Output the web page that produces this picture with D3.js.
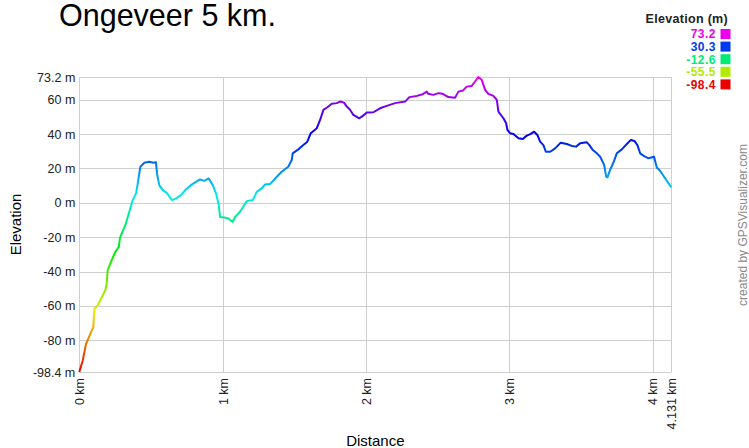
<!DOCTYPE html>
<html>
<head>
<meta charset="utf-8">
<script src="https://cdn.jsdelivr.net/npm/d3@7"></script>
<style>
  body { margin: 0; background: #fff; }
  svg { display: block; font-family: "Liberation Sans", Arial, sans-serif; }
</style>
</head>
<body>
<svg width="749" height="448"></svg>
<script>

// DATA

var distKm = [0, 0.024, 0.047, 0.082, 0.098, 0.105, 0.128, 0.158, 0.181, 0.191,
  0.198, 0.221, 0.251, 0.275, 0.284, 0.321, 0.349, 0.373, 0.396, 0.408,
  0.426, 0.454, 0.488, 0.516, 0.535, 0.542, 0.558, 0.582, 0.610, 0.647,
  0.675, 0.710, 0.740, 0.779, 0.814, 0.842, 0.872, 0.903, 0.931, 0.954,
  0.973, 0.982, 1.012, 1.040, 1.070, 1.087, 1.121, 1.144, 1.168, 1.210,
  1.238, 1.273, 1.296, 1.331, 1.378, 1.412, 1.458, 1.482, 1.489, 1.528,
  1.563, 1.591, 1.615, 1.657, 1.680, 1.703, 1.731, 1.761, 1.796, 1.819,
  1.847, 1.866, 1.889, 1.912, 1.954, 1.978, 2.006, 2.052, 2.098, 2.145,
  2.203, 2.273, 2.303, 2.355, 2.396, 2.424, 2.435, 2.470, 2.505, 2.536,
  2.575, 2.622, 2.645, 2.676, 2.703, 2.738, 2.761, 2.784, 2.808, 2.831,
  2.854, 2.889, 2.913, 2.924, 2.959, 2.978, 2.987, 3.005, 3.029, 3.064,
  3.094, 3.122, 3.150, 3.173, 3.196, 3.215, 3.238, 3.255, 3.285, 3.320,
  3.359, 3.401, 3.436, 3.466, 3.494, 3.541, 3.559, 3.583, 3.611, 3.634,
  3.662, 3.676, 3.685, 3.703, 3.726, 3.750, 3.785, 3.820, 3.848, 3.873,
  3.894, 3.913, 3.941, 3.971, 4.010, 4.029, 4.052, 4.080, 4.099, 4.131];

var elevM = [-98.4, -91.7, -82.0, -75.2, -72.3, -61.6, -59.7, -54.8, -50.9, -47.0,
  -39.2, -34.4, -28.6, -25.7, -20.2, -13.0, -5.2, 1.6, 5.5, 11.3,
  21.0, 23.3, 23.9, 23.3, 23.6, 17.1, 10.3, 7.4, 5.8, 1.6,
  2.6, 4.5, 7.4, 10.3, 12.2, 13.6, 12.8, 14.2, 10.3, 5.5,
  -1.3, -8.2, -8.5, -9.1, -11.1, -8.2, -5.2, -2.3, 1.0, 1.6,
  6.4, 8.4, 10.7, 10.9, 15.2, 18.1, 21.0, 24.9, 28.8, 31.1,
  33.6, 35.6, 40.5, 43.4, 48.2, 54.1, 55.6, 57.6, 58.0, 58.9,
  58.3, 56.0, 54.1, 51.1, 49.2, 50.6, 52.5, 52.7, 55.0, 56.4,
  58.0, 58.9, 61.5, 62.2, 63.2, 64.7, 63.4, 62.8, 63.8, 63.4,
  61.5, 61.2, 64.7, 65.3, 67.6, 68.0, 70.6, 73.2, 71.5, 65.7,
  63.4, 62.2, 59.9, 53.1, 49.2, 46.3, 42.4, 40.5, 40.1, 37.6,
  37.1, 39.1, 40.1, 41.4, 39.5, 35.6, 33.6, 29.7, 29.7, 31.7,
  35.0, 34.2, 33.1, 32.7, 34.6, 35.2, 33.6, 30.7, 28.8, 26.8,
  22.0, 15.2, 14.8, 19.1, 23.3, 28.8, 31.1, 34.2, 36.6, 36.0,
  33.6, 28.8, 27.2, 25.9, 26.8, 20.6, 18.7, 15.2, 12.8, 9.0];

var yTicks = [73.2, 60, 40, 20, 0, -20, -40, -60, -80, -98.4];
var xTicks = [0, 1, 2, 3, 4, 4.131];
var legendValues = [73.2, 30.3, -12.6, -55.5, -98.4];

var svg = d3.select("svg");

var plotLeft = 79.3, plotRight = 671.4, plotTop = 77, plotBottom = 372;

var x = d3.scaleLinear().domain([0, 4.131]).range([plotLeft, plotRight]);
var y = d3.scaleLinear().domain([-98.4, 73.2]).range([plotBottom, plotTop]);

// rainbow by elevation: red (low) -> magenta (high)
var hue = d3.scaleLinear().domain([-98.4, 73.2]).range([0, 300]);
function elevColor(v) { return d3.hsl(hue(v), 1, 0.46).toString(); }

// TITLE

svg.append("text")
    .attr("x", 59)
    .attr("y", 26)
    .attr("font-size", 30.5)
    .attr("fill", "#000")
    .text("Ongeveer 5 km.");

// GRID

var grid = svg.append("g").attr("stroke", "#cfcfcf").attr("stroke-width", 1);

grid.selectAll("line.h")
    .data(yTicks)
  .enter().append("line")
    .attr("x1", plotLeft).attr("x2", plotRight)
    .attr("y1", function(d) { return Math.round(y(d)) + 0.5; })
    .attr("y2", function(d) { return Math.round(y(d)) + 0.5; });

grid.selectAll("line.v")
    .data(xTicks)
  .enter().append("line")
    .attr("y1", plotTop).attr("y2", plotBottom)
    .attr("x1", function(d) { return Math.round(x(d)) + 0.5; })
    .attr("x2", function(d) { return Math.round(x(d)) + 0.5; });

// AXES

var yAxis = svg.append("g")
    .attr("transform", "translate(" + plotLeft + ",0)")
    .call(d3.axisLeft(y).tickValues(yTicks).tickSize(0).tickPadding(4)
      .tickFormat(function(d) { return d + " m"; }));
yAxis.select(".domain").remove();
yAxis.selectAll("text")
    .attr("font-size", 12.5)
    .attr("font-family", "Liberation Sans, Arial, sans-serif")
    .attr("fill", "#222");

var xAxis = svg.append("g")
    .attr("transform", "translate(0," + plotBottom + ")")
    .call(d3.axisBottom(x).tickValues(xTicks).tickSize(0)
      .tickFormat(function(d) { return d + " km"; }));
xAxis.select(".domain").remove();
xAxis.selectAll("text")
    .attr("font-size", 12.5)
    .attr("font-family", "Liberation Sans, Arial, sans-serif")
    .attr("fill", "#222")
    .attr("text-anchor", "end")
    .attr("transform", "rotate(-90)")
    .attr("x", -6)
    .attr("y", 0)
    .attr("dy", "0.35em");

svg.append("text")
    .attr("transform", "translate(21," + ((plotTop + plotBottom) / 2) + ") rotate(-90)")
    .attr("text-anchor", "middle")
    .attr("font-size", 15)
    .text("Elevation");

svg.append("text")
    .attr("x", (plotLeft + plotRight) / 2)
    .attr("y", 446)
    .attr("text-anchor", "middle")
    .attr("font-size", 15)
    .text("Distance");

// PROFILE LINE (vertical gradient by elevation)

var grad = svg.append("defs").append("linearGradient")
    .attr("id", "elevGrad")
    .attr("gradientUnits", "userSpaceOnUse")
    .attr("x1", 0).attr("x2", 0)
    .attr("y1", y(-98.4)).attr("y2", y(73.2));

grad.selectAll("stop")
    .data(d3.range(0, 1.0001, 0.05))
  .enter().append("stop")
    .attr("offset", function(t) { return t; })
    .attr("stop-color", function(t) { return elevColor(-98.4 + t * 171.6); });

var line = d3.line()
    .x(function(d) { return x(d[0]); })
    .y(function(d) { return y(d[1]); });

svg.append("path")
    .datum(d3.zip(distKm, elevM))
    .attr("fill", "none")
    .attr("stroke", "url(#elevGrad)")
    .attr("stroke-width", 2)
    .attr("stroke-linejoin", "round")
    .attr("d", line);

// LEGEND

svg.append("text")
    .attr("x", 728)
    .attr("y", 23)
    .attr("text-anchor", "end")
    .attr("font-size", 12.5)
    .attr("font-weight", "bold")
    .attr("letter-spacing", 0.3)
    .attr("fill", "#222")
    .text("Elevation (m)");

var leg = svg.append("g")
    .selectAll("g")
    .data(legendValues)
  .enter().append("g")
    .attr("transform", function(d, i) { return "translate(0," + (34 + i * 12.6) + ")"; });

leg.append("rect")
    .attr("x", 720.5).attr("y", -5)
    .attr("width", 10).attr("height", 10)
    .attr("fill", elevColor);

leg.append("text")
    .attr("x", 716)
    .attr("dy", "0.36em")
    .attr("text-anchor", "end")
    .attr("font-size", 12)
    .attr("font-weight", "bold")
    .attr("letter-spacing", 0.5)
    .attr("fill", elevColor)
    .text(function(d) { return d.toFixed(1); });

// CREDIT

svg.append("text")
    .attr("transform", "translate(747,225) rotate(-90)")
    .attr("text-anchor", "middle")
    .attr("font-size", 12)
    .attr("fill", "#888")
    .text("created by GPSVisualizer.com");

</script>
</body>
</html>
